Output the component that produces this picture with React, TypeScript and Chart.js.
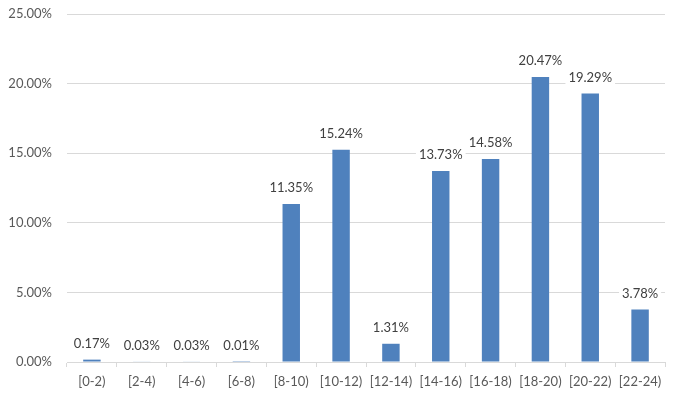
import React, { useEffect, useRef } from "react";
import { Chart, registerables } from "chart.js";

Chart.register(...registerables);

const categories = ["[0-2)", "[2-4)", "[4-6)", "[6-8)", "[8-10)", "[10-12)", "[12-14)", "[14-16)", "[16-18)", "[18-20)", "[20-22)", "[22-24)"];
const values = [0.17, 0.03, 0.03, 0.01, 11.35, 15.24, 1.31, 13.73, 14.58, 20.47, 19.29, 3.78];
const yMax = 25;
const yStep = 5;

const FONT = "Lato, 'Open Sans', sans-serif";

const labelPlugin = {
  id: "barLabels",
  afterDatasetsDraw(chart: any) {
    const ctx = chart.ctx;
    const meta = chart.getDatasetMeta(0);
    ctx.save();
    ctx.font = `13px ${FONT}`;
    ctx.textAlign = "center";
    ctx.textBaseline = "middle";
    meta.data.forEach((bar: any, i: number) => {
      const text = values[i].toFixed(2) + "%";
      const w = ctx.measureText(text).width;
      const cx = bar.x;
      const cy = bar.y - 17;
      ctx.fillStyle = "#ffffff";
      ctx.fillRect(cx - w / 2 - 3, cy - 8, w + 6, 16);
      ctx.fillStyle = "#404040";
      ctx.fillText(text, cx, cy + 1);
    });
    ctx.restore();
  },
};

export default function App() {
  const ref = useRef<HTMLCanvasElement>(null);
  useEffect(() => {
    document.body.style.margin = "0";
    const chart = new Chart(ref.current as HTMLCanvasElement, {
      type: "bar",
      data: {
        labels: categories,
        datasets: [
          {
            data: values,
            backgroundColor: "#4f81bd",
            categoryPercentage: 1,
            barPercentage: 0.35,
          },
        ],
      },
      options: {
        animation: false,
        responsive: false,
        maintainAspectRatio: false,
        layout: { padding: { top: 14, right: 15, left: 0, bottom: 0 } },
        plugins: { legend: { display: false }, tooltip: { enabled: false } },
        scales: {
          x: {
            grid: {
              display: true,
              drawOnChartArea: false,
              drawTicks: true,
              tickLength: 5,
              color: "#d9d9d9",
              offset: true,
            },
            border: { display: true, color: "#d9d9d9", width: 1 },
            ticks: {
              color: "#595959",
              font: { family: FONT, size: 13 },
              padding: 7,
              maxRotation: 0,
              autoSkip: false,
            },
            afterFit(scale: any) {
              scale.height = 36;
              scale.paddingLeft = 0;
              scale.paddingRight = 0;
            },
          },
          y: {
            min: 0,
            max: yMax,
            ticks: {
              stepSize: yStep,
              color: "#595959",
              font: { family: FONT, size: 13 },
              padding: 15,
              callback: (v: any) => Number(v).toFixed(2) + "%",
            },
            grid: { color: "#d9d9d9", drawTicks: false, lineWidth: 1 },
            border: { display: false },
            afterFit(scale: any) {
              scale.width = 67;
              scale.paddingTop = 0;
              scale.paddingBottom = 0;
            },
          },
        },
      },
      plugins: [labelPlugin],
    });
    return () => chart.destroy();
  }, []);
  return (
    <div style={{ width: 680, height: 398, background: "#fff" }}>
      <canvas ref={ref} width={680} height={398} style={{ display: "block" }} />
    </div>
  );
}
